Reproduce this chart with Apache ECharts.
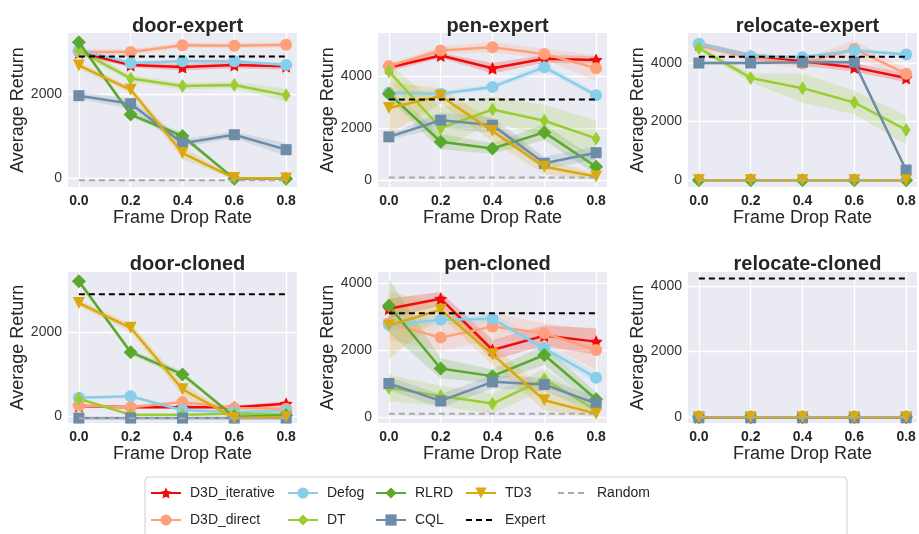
<!DOCTYPE html>
<html><head><meta charset="utf-8">
<script src="https://cdn.jsdelivr.net/npm/echarts@6/dist/echarts.min.js"></script>
<style>html,body{margin:0;padding:0;background:#fff}#c{width:919px;height:534px}</style>
</head><body><div id="c"></div><script>
// ---------- data ----------
const xs = [0, 0.2, 0.4, 0.6, 0.8];
const methods = ['D3D_iterative','D3D_direct','Defog','DT','RLRD','CQL','TD3'];
const panelTitles = ['door-expert','pen-expert','relocate-expert','door-cloned','pen-cloned','relocate-cloned'];

// values per panel, ordered as methods
const doorExpertVals = [
  [2990, 2690, 2640, 2690, 2660],
  [3000, 3000, 3160, 3150, 3170],
  [3050, 2740, 2780, 2780, 2690],
  [3040, 2370, 2190, 2215, 1970],
  [3230, 1510, 1000, -20, -20],
  [1960, 1770, 830, 1030, 675],
  [2680, 2100, 595, 0, -10]
];
const penExpertVals = [
  [4330, 4790, 4300, 4660, 4620],
  [4380, 4980, 5110, 4850, 4300],
  [3360, 3320, 3580, 4340, 3260],
  [4180, 2000, 2710, 2280, 1600],
  [3320, 1470, 1210, 1830, 510],
  [1660, 2300, 2110, 640, 1050],
  [2770, 3230, 1880, 510, 130]
];
const relocateExpertVals = [
  [4630, 4230, 4060, 3850, 3490],
  [4630, 4170, 3980, 4480, 3630],
  [4660, 4230, 4200, 4430, 4290],
  [4510, 3490, 3140, 2650, 1710],
  [-5, -5, -5, -5, -5],
  [4000, 4000, 4030, 4030, 340],
  [-5, -5, -5, -5, -5]
];
const doorClonedVals = [
  [240, 210, 210, 210, 290],
  [250, 210, 330, 190, 175],
  [437, 468, 135, 95, 119],
  [410, 30, 30, 55, 40],
  [3210, 1520, 990, -20, 10],
  [-50, -50, -50, -50, -50],
  [2690, 2100, 635, -45, -25]
];
const penClonedVals = [
  [3230, 3530, 2000, 2430, 2250],
  [2800, 2370, 2700, 2500, 2000],
  [2750, 2900, 2930, 2050, 1170],
  [870, 630, 400, 1130, 200],
  [3320, 1450, 1220, 1850, 530],
  [1000, 480, 1050, 970, 400],
  [2730, 3200, 1870, 500, 100]
];
const relocateClonedVals = [
  [-5, -5, -5, -5, -5],
  [-5, -5, -5, -5, -5],
  [-5, -5, -5, -5, -5],
  [-5, -5, -5, -5, -5],
  [-5, -5, -5, -5, -5],
  [-20, -20, -20, -20, -20],
  [-5, -5, -5, -5, -5]
];

// shaded band half-widths (null = none visible), ordered as methods
const doorExpertBand = [
  [60,60,80,80,80],[80,80,60,60,60],[40,40,40,40,40],[80,80,80,80,150],
  [60,60,80,20,20],[80,120,100,80,150],[80,80,150,30,30]
];
const penExpertBand = [
  [150,100,200,150,150],[100,150,200,200,500],[100,100,100,150,100],[300,800,500,600,700],
  [200,300,200,300,300],[100,300,300,250,250],[1000,300,400,300,100]
];
const relocateExpertBand = [
  [100,100,150,150,150],[100,150,150,300,150],[60,60,60,80,60],[100,150,500,400,500],
  null,[60,60,60,60,60],null
];
const doorClonedBand = [
  [40,40,40,40,60],[40,40,60,40,40],[40,40,40,30,30],[40,20,20,20,20],
  [60,60,80,20,20],null,[80,100,150,50,20]
];
const penClonedBand = [
  [300,200,300,300,400],[500,400,400,300,600],[150,150,150,150,150],[400,300,300,300,200],
  [800,300,200,300,200],[200,200,200,200,200],[1000,200,300,300,100]
];
const relocateClonedBand = [null,null,null,null,null,null,null];

const expertLevels = [2890, 3100, 4210, 2900, 3100, 4230];
const randomLevels = [-56, 96, -6, -56, 96, -6];
const yTickLabels = [[0,2000],[0,2000,4000],[0,2000,4000],[0,2000],[0,2000,4000],[0,2000,4000]];
const yRanges = [[-214,3452],[-270,5654],[-240,5026],[-167,3428],[-179,4328],[-183,4428]];

// ---------- style ----------
const STAR = 'path://M0,-10 L2.94,-4.05 9.51,-3.09 4.76,1.55 5.88,8.09 0,5 -5.88,8.09 -4.76,1.55 -9.51,-3.09 -2.94,-4.05 Z';
const styles = {
  'D3D_iterative': {color:'#f00a0a', symbol: STAR, size: 13, rot: 0},
  'D3D_direct':    {color:'#ffa07a', symbol:'circle', size: 12, rot: 0},
  'Defog':         {color:'#87ceeb', symbol:'circle', size: 12, rot: 0},
  'DT':            {color:'#9acd32', symbol:'diamond', size: [9,14], rot: 0},
  'RLRD':          {color:'#5aa82e', symbol:'diamond', size: 14, rot: 0},
  'CQL':           {color:'#6d8ca8', symbol:'rect', size: 11, rot: 0},
  'TD3':           {color:'#d9a90f', symbol:'triangle', size: 12, rot: 180}
};

const allVals = [doorExpertVals, penExpertVals, relocateExpertVals, doorClonedVals, penClonedVals, relocateClonedVals];
const allBands = [doorExpertBand, penExpertBand, relocateExpertBand, doorClonedBand, penClonedBand, relocateClonedBand];

const FONT = 'Liberation Sans';
const lefts = [68, 378, 688];
const grids = [], xAxes = [], yAxes = [], titles = [], series = [];
for (let p = 0; p < 6; p++) {
  const row = Math.floor(p / 3), col = p % 3;
  const top = row === 0 ? 33 : 272;
  const h = row === 0 ? 154 : 151;
  grids.push({left: lefts[col], top: top, width: 229, height: h, show: true,
              backgroundColor: '#eaeaf2', borderWidth: 0, containLabel: false});
  titles.push({text: panelTitles[p], left: lefts[col] + 114.5, top: row === 0 ? 11 : 249,
               textAlign: 'center',
               textStyle: {fontSize: 20, fontWeight: 'bold', color: '#262626', fontFamily: FONT}});
  xAxes.push({type: 'value', gridIndex: p, min: -0.042, max: 0.842,
    axisLine: {show: false}, axisTick: {show: false, customValues: xs},
    axisLabel: {customValues: xs, formatter: v => v.toFixed(1), fontWeight: 'bold', fontSize: 14,
                color: '#262626', margin: 7, fontFamily: FONT},
    splitLine: {show: true, lineStyle: {color: '#ffffff', width: 1.3}},
    name: 'Frame Drop Rate', nameLocation: 'middle', nameGap: 20,
    nameTextStyle: {fontSize: 18, color: '#262626', fontFamily: FONT}});
  yAxes.push({type: 'value', gridIndex: p, min: yRanges[p][0], max: yRanges[p][1],
    axisLine: {show: false}, axisTick: {show: false, customValues: yTickLabels[p]},
    axisLabel: {customValues: yTickLabels[p], formatter: v => String(v), fontSize: 14, color: '#333',
                margin: 6, fontFamily: FONT},
    splitLine: {show: true, lineStyle: {color: '#ffffff', width: 1.3}},
    name: 'Average Return', nameLocation: 'middle', nameGap: 29,
    nameTextStyle: {fontSize: 18, color: '#262626', fontFamily: FONT}});

  // shaded bands (polygon through the axis scales)
  methods.forEach((m, k) => {
    const b = allBands[p][k];
    if (!b) return;
    const v = allVals[p][k];
    const color = styles[m].color;
    series.push({type: 'custom', name: 'band', xAxisIndex: p, yAxisIndex: p, z: 1, silent: true,
      animation: false, clip: true,
      data: xs.map((x, i) => [x, v[i] - b[i], v[i] + b[i]]),
      encode: {x: 0, y: [1, 2]},
      renderItem: (params, api) => {
        if (params.dataIndex !== 0) return {type: 'group', children: []};
        const upper = xs.map((x, i) => api.coord([x, v[i] + b[i]]));
        const lower = xs.map((x, i) => api.coord([x, v[i] - b[i]])).reverse();
        return {type: 'polygon', shape: {points: upper.concat(lower)},
                style: {fill: color, opacity: 0.2}};
      }});
  });
  // lines
  methods.forEach((m, k) => {
    const s = styles[m];
    series.push({type: 'line', name: m, xAxisIndex: p, yAxisIndex: p, z: 3 + k, animation: false,
      symbol: s.symbol, symbolSize: s.size, symbolRotate: s.rot, showAllSymbol: true,
      itemStyle: {color: s.color}, lineStyle: {color: s.color, width: 2.5},
      data: xs.map((x, i) => [x, allVals[p][k][i]])});
  });
  series.push({type: 'line', name: 'Expert', xAxisIndex: p, yAxisIndex: p, z: 12, animation: false,
    symbol: 'none', itemStyle: {color: '#000'}, lineStyle: {color: '#000', width: 2, type: [6, 4]},
    data: [[xs[0], expertLevels[p]], [xs[4], expertLevels[p]]]});
  series.push({type: 'line', name: 'Random', xAxisIndex: p, yAxisIndex: p, z: 12, animation: false,
    symbol: 'none', itemStyle: {color: '#aaaaaa'}, lineStyle: {color: '#aaaaaa', width: 2, type: [6, 4]},
    data: [[xs[0], randomLevels[p]], [xs[4], randomLevels[p]]]});
}

const legendCols = [['D3D_iterative','D3D_direct'],['Defog','DT'],['RLRD','CQL'],['TD3','Expert'],['Random']];
const legendLefts = [150, 287, 375, 465, 557];
const noMarker = ['Expert', 'Random'];
const legends = legendCols.map((d, i) => ({
  data: d.map(n => noMarker.includes(n) ? {name: n, itemStyle: {opacity: 0}} : n),
  orient: 'vertical', left: legendLefts[i], top: 486, itemWidth: 30, itemHeight: 14,
  itemGap: 13, selectedMode: false, padding: 0,
  textStyle: {fontSize: 14, color: '#262626', fontFamily: FONT, padding: [0, 0, 0, 4]}
}));

const chart = echarts.init(document.getElementById('c'), null, {renderer: 'canvas'});
chart.setOption({
  backgroundColor: '#ffffff',
  animation: false,
  title: titles,
  grid: grids, xAxis: xAxes, yAxis: yAxes,
  legend: legends,
  graphic: [{type: 'rect', shape: {x: 145, y: 477, width: 702, height: 64, r: 4}, z: -1,
             style: {fill: '#ffffff', stroke: '#d0d0d0', lineWidth: 1}}],
  series: series
});
</script></body></html>
